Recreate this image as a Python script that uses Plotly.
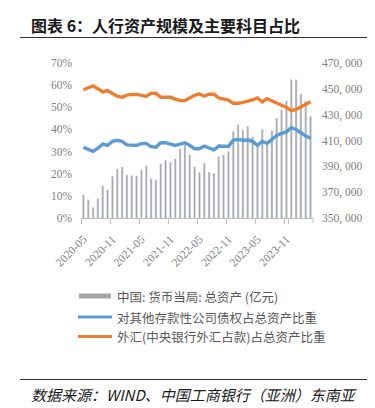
import plotly.graph_objects as go

months = ["2020-05","2020-06","2020-07","2020-08","2020-09","2020-10","2020-11","2020-12",
          "2021-01","2021-02","2021-03","2021-04","2021-05","2021-06","2021-07","2021-08",
          "2021-09","2021-10","2021-11","2021-12","2022-01","2022-02","2022-03","2022-04",
          "2022-05","2022-06","2022-07","2022-08","2022-09","2022-10","2022-11","2022-12",
          "2023-01","2023-02","2023-03","2023-04","2023-05","2023-06","2023-07","2023-08",
          "2023-09","2023-10","2023-11","2023-12","2024-01","2024-02","2024-03","2024-04"]

total_assets = [368000, 364200, 358300, 365000, 375000, 371900, 382300, 388000,
                389500, 383300, 383000, 382500, 387200, 390500, 380700, 379700,
                392000, 394900, 393400, 395900, 403700, 407000, 399000, 389700,
                385400, 392600, 385600, 384800, 397800, 399000, 401600, 417100,
                422200, 418100, 421200, 413000, 406300, 418700, 409400, 417600,
                427400, 433800, 440800, 457300, 457100, 446000, 440600, 428700]

claims_share = [31.9, 31.0, 30.1, 31.6, 33.4, 32.8, 34.6, 35.1,
                34.6, 33.0, 32.8, 32.8, 33.6, 33.7, 32.2, 32.0,
                34.0, 34.0, 33.4, 32.8, 33.4, 34.0, 32.8, 31.3,
                31.3, 32.5, 31.6, 30.8, 32.5, 32.5, 32.3, 35.2,
                35.5, 35.1, 35.2, 34.6, 32.8, 34.6, 33.7, 35.5,
                37.3, 38.2, 38.8, 40.8, 40.0, 38.5, 37.0, 36.1]

fx_share = [57.9, 58.7, 59.7, 58.4, 56.9, 57.5, 56.1, 55.0,
            54.5, 55.5, 55.8, 55.8, 55.4, 55.0, 56.3, 56.4,
            54.5, 54.5, 54.5, 53.7, 53.0, 53.0, 54.2, 55.4,
            56.1, 55.0, 55.9, 55.9, 54.2, 53.7, 53.3, 51.8,
            51.8, 52.2, 52.7, 53.3, 54.2, 52.4, 53.9, 52.9,
            51.5, 50.9, 50.0, 48.5, 49.0, 50.2, 51.3, 52.5]

pct_ticks = [0, 10, 20, 30, 40, 50, 60, 70]
pct_labels = ["0%", "10%", "20%", "30%", "40%", "50%", "60%", "70%"]
asset_ticks = [350000, 370000, 390000, 410000, 430000, 450000, 470000]
asset_labels = ["350, 000", "370, 000", "390, 000", "410, 000", "430, 000", "450, 000", "470, 000"]
x_tick_cats = months[::6]

legend_names = ["中国: 货币当局: 总资产 (亿元)",
                "对其他存款性公司债权占总资产比重",
                "外汇(中央银行外汇占款)占总资产比重"]

BAR_C = "#a5a5a5"
BLUE = "#5b9bd5"
ORANGE = "#ed7d31"
AX_TXT = "#7f7f7f"

# plot area in pixels
L, R, T, B = 73, 305, 55, 210
W, H = 375, 408


def px(x):
    return (x - L) / (R - L)


def py(y):
    return (B - y) / (B - T)


fig = go.Figure()
fig.add_trace(go.Bar(x=months, y=total_assets, marker_color=BAR_C, yaxis="y",
                     name=legend_names[0], showlegend=False))
fig.add_trace(go.Scatter(x=months, y=claims_share, mode="lines", yaxis="y2",
                         line=dict(color=BLUE, width=3.4), name=legend_names[1], showlegend=False))
fig.add_trace(go.Scatter(x=months, y=fx_share, mode="lines", yaxis="y2",
                         line=dict(color=ORANGE, width=3.4), name=legend_names[2], showlegend=False))

serif = "Liberation Serif, Times New Roman, serif"
cjk = "Noto Sans CJK SC"

fig.update_layout(
    width=W, height=H,
    margin=dict(l=L, r=W - R, t=T, b=H - B),
    paper_bgcolor="white", plot_bgcolor="white",
    bargap=0.58,
    showlegend=False,
    xaxis=dict(type="category", tickmode="array", tickvals=x_tick_cats, ticktext=x_tick_cats,
               tickangle=-45, tickson="boundaries", ticks="outside", ticklen=5,
               tickcolor="#bfbfbf", showline=True, linecolor="#bfbfbf", linewidth=1,
               showgrid=False, tickfont=dict(family=serif, size=11.5, color=AX_TXT),
               ticklabelstandoff=9),
    yaxis=dict(side="right", range=[350000, 470000], tickmode="array", tickvals=asset_ticks,
               ticktext=asset_labels, showgrid=False, zeroline=False, showline=False,
               tickfont=dict(family=serif, size=11.5, color=AX_TXT), ticklabelstandoff=8),
    yaxis2=dict(side="left", overlaying="y", range=[0, 70], tickmode="array", tickvals=pct_ticks,
                ticktext=pct_labels, showgrid=False, zeroline=False, showline=False,
                tickfont=dict(family=serif, size=11.5, color=AX_TXT), ticklabelstandoff=8),
)

shapes = []
annotations = []

# last boundary tick at end of axis
shapes.append(dict(type="line", xref="paper", yref="paper", x0=1, x1=1, y0=0, y1=py(B + 5),
                   line=dict(color="#bfbfbf", width=1)))

# title and rule
annotations.append(dict(text="<b>图表 6：人行资产规模及主要科目占比</b>", xref="paper", yref="paper",
                        x=px(21), y=py(17), xanchor="left", yanchor="middle", showarrow=False,
                        font=dict(family=cjk, size=16, color="#1a1a1a")))
shapes.append(dict(type="line", xref="paper", yref="paper", x0=px(12), x1=px(376), y0=py(29.5), y1=py(29.5),
                   line=dict(color="#333333", width=1)))

# legend
shapes.append(dict(type="rect", xref="paper", yref="paper", x0=px(71), x1=px(103), y0=py(285.5), y1=py(290.5),
                   fillcolor=BAR_C, line=dict(width=0)))
shapes.append(dict(type="line", xref="paper", yref="paper", x0=px(70), x1=px(104), y0=py(309), y1=py(309),
                   line=dict(color=BLUE, width=3)))
shapes.append(dict(type="line", xref="paper", yref="paper", x0=px(70), x1=px(104), y0=py(328.5), y1=py(328.5),
                   line=dict(color=ORANGE, width=3)))
for name, yy in zip(legend_names, [288, 309, 328.5]):
    annotations.append(dict(text=name, xref="paper", yref="paper", x=px(107), y=py(yy),
                            xanchor="left", yanchor="middle", showarrow=False,
                            font=dict(family=cjk, size=12.5, color="#595959")))

# footer
shapes.append(dict(type="line", xref="paper", yref="paper", x0=px(12), x1=px(376), y0=py(371.5), y1=py(371.5),
                   line=dict(color="#333333", width=1)))
annotations.append(dict(text="<i>数据来源：WIND、中国工商银行（亚洲）东南亚</i>", xref="paper", yref="paper",
                        x=px(21), y=py(387), xanchor="left", yanchor="middle", showarrow=False,
                        font=dict(family=cjk, size=15, color="#1a1a1a")))
annotations.append(dict(text="<i>研究中心）</i>", xref="paper", yref="paper",
                        x=px(21), y=py(408), xanchor="left", yanchor="middle", showarrow=False,
                        font=dict(family=cjk, size=15, color="#1a1a1a")))

fig.update_layout(shapes=shapes, annotations=annotations)
fig.write_html("out.html")
